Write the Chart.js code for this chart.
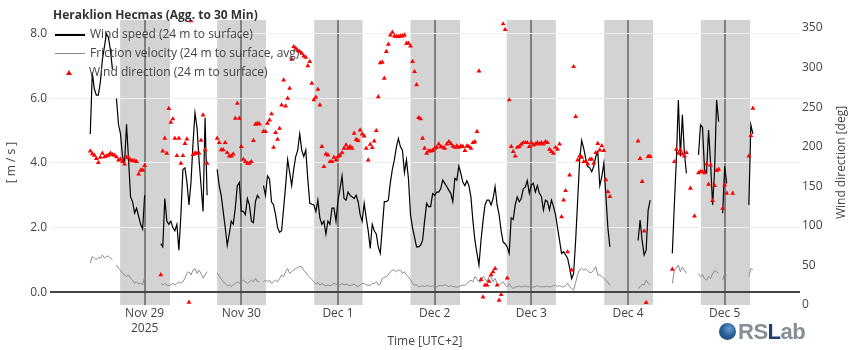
<!DOCTYPE html>
<html>
<head>
<meta charset="utf-8">
<script src="https://cdn.jsdelivr.net/npm/chart.js@4.4.1/dist/chart.umd.min.js"></script>
<style>
  html, body { margin: 0; padding: 0; background: #fff; }
  #wrap { position: relative; width: 850px; height: 350px; font-family: "Open Sans", sans-serif; color: #444; }
  #chart { position: absolute; left: 0; top: 0; }
  #title { position: absolute; left: 53px; top: 5px; font-size: 12px; font-weight: bold; color: #333; line-height: 20px; white-space: nowrap; }
  .leg { position: absolute; left: 55px; height: 19px; line-height: 19px; font-size: 12px; color: #444; white-space: nowrap; }
  .leg .sw { display: inline-block; width: 30px; height: 0; vertical-align: middle; margin-right: 5px; }
  .leg .tri { display: inline-block; width: 0; height: 0; margin: 0 17px 0 11px; vertical-align: middle;
              border-left: 3px solid transparent; border-right: 3px solid transparent; border-bottom: 5px solid #ff0000; }
  #logo { position: absolute; left: 719px; top: 320px; height: 24px; font-family: "Liberation Sans", Arial, sans-serif;
          font-weight: bold; font-size: 22px; line-height: 24px; letter-spacing: -0.5px; white-space: nowrap; }
  #logo .globe { display: inline-block; width: 17px; height: 17px; border-radius: 50%; vertical-align: -1px; margin-right: 2px;
                 background: radial-gradient(circle at 60% 35%, #6f9fd0 0, #2a5f9a 45%, #173e6e 100%); }
  #logo .g { color: #858d97; }
  #logo .b { color: #1d3f72; }
</style>
</head>
<body>
<div id="wrap">
  <canvas id="chart" width="850" height="350"></canvas>
  <div id="title">Heraklion Hecmas (Agg. to 30 Min)</div>
  <div class="leg" style="top:24px"><span class="sw" style="border-top:2px solid #000"></span>Wind speed (24 m to surface)</div>
  <div class="leg" style="top:43px"><span class="sw" style="border-top:1.5px solid #8c8c8c"></span>Friction velocity (24 m to surface, avg)</div>
  <div class="leg" style="top:62px"><span class="tri"></span>Wind direction (24 m to surface)</div>
  <div id="logo"><span class="globe"></span><span class="g">RS</span><span class="b">L</span><span class="g">ab</span></div>
</div>
<script>
// half-hourly samples, starting 2025-11-28 00:00 (UTC+2), one row per day
const stepHours = 0.5;

const speed = [
  null,null,null,null,null,null,null,null,null,null,null,null,null,null,null,null,null,null,null,null,null,4.9,6.8,6.3,6.1,6.1,6.5,7.2,7.6,8.0,7.9,7.5,6.9,null,6.0,5.2,4.9,4.2,4.0,5.2,4.1,2.95,2.8,2.45,2.6,2.35,2.1,1.95,
  3.0,null,null,null,null,null,null,null,1.5,1.4,2.9,2.2,2.1,2.2,2.0,1.9,2.1,1.3,2.4,3.8,3.85,3.4,2.7,3.4,4.6,5.55,5.1,4.1,3.3,2.5,5.4,3.0,null,null,null,null,3.8,3.3,3.0,2.5,2.0,1.45,1.8,2.2,2.1,2.6,3.3,3.4,
  2.5,2.5,2.4,2.9,2.7,2.2,2.15,2.8,3.0,2.9,null,3.3,3.0,3.6,3.5,2.8,2.7,2.4,2.0,1.85,1.9,2.6,3.3,4.1,3.7,3.3,3.8,4.2,4.4,4.9,4.4,4.2,4.4,3.5,2.75,2.72,2.7,2.5,2.85,2.3,2.1,2.2,1.8,2.2,2.1,2.6,2.6,2.2,
  2.85,3.2,3.6,2.9,2.85,3.1,3.0,2.95,2.9,3.0,2.8,2.4,2.2,2.75,2.3,1.9,1.35,2.1,1.9,1.8,1.4,1.2,2.0,2.8,2.8,2.85,3.4,3.8,4.1,4.5,4.76,4.5,4.4,3.7,4.1,3.5,2.4,2.0,1.7,1.4,1.4,1.45,1.6,2.2,2.75,2.65,2.65,3.05,
  3.0,3.1,3.1,3.2,3.47,3.37,3.27,3.16,3.06,2.8,3.52,3.47,3.9,3.68,3.4,3.3,3.45,3.3,2.95,2.2,1.6,1.2,0.84,1.6,2.2,2.7,2.85,2.85,2.7,2.9,3.27,2.7,2.4,1.9,1.55,1.5,1.4,1.2,2.3,2.25,2.7,2.95,2.8,2.9,3.2,3.25,3.45,3.06,
  3.32,3.37,3.1,3.3,3.06,2.96,2.54,2.85,2.8,2.55,2.85,2.65,2.4,2.0,1.6,1.2,1.25,1.15,1.05,0.75,0.42,0.58,1.6,2.85,4.1,4.7,4.45,4.14,3.89,3.85,3.73,3.9,4.2,4.35,3.3,3.58,4.0,3.0,2.0,1.4,null,null,null,null,null,null,null,null,
  null,null,null,null,null,1.6,2.23,1.6,1.15,1.3,2.54,2.85,null,null,null,null,null,null,null,null,null,null,1.2,2.7,4.1,5.95,4.2,5.49,4.3,3.68,null,null,null,null,null,4.25,5.18,5.1,3.78,3.7,5.02,4.0,2.7,3.8,5.95,5.28,null,2.44,
  3.9,3.37,null,null,null,null,null,null,null,null,null,null,2.7,5.18,4.9
];

const friction = [
  null,null,null,null,null,null,null,null,null,null,null,null,null,null,null,null,null,null,null,null,null,0.9,1.1,1.05,1.0,1.08,1.05,1.15,1.05,1.1,1.12,1.05,1.0,null,0.84,0.74,0.68,0.58,0.53,0.48,0.53,0.43,0.37,0.27,0.32,0.25,0.27,0.22,
  0.48,null,null,null,null,null,null,null,0.27,0.22,0.27,0.22,0.2,0.22,0.27,0.22,0.27,0.32,0.27,0.32,0.43,0.58,0.63,0.53,0.68,0.73,0.58,0.68,0.58,0.43,0.53,0.63,null,null,null,null,0.6,0.48,0.42,0.32,0.27,0.2,0.22,0.17,0.22,0.27,0.32,0.27,
  0.32,0.37,0.32,0.27,0.32,0.37,0.32,0.42,0.32,0.32,null,0.32,0.37,0.32,0.37,0.27,0.32,0.37,0.32,0.42,0.53,0.48,0.63,0.73,0.58,0.63,0.68,0.73,0.76,0.8,0.78,0.68,0.6,0.52,0.45,0.4,0.32,0.24,0.3,0.22,0.27,0.22,0.2,0.22,0.2,0.22,0.27,0.25,
  0.2,0.22,0.27,0.22,0.25,0.22,0.2,0.22,0.25,0.2,0.17,0.22,0.27,0.27,0.22,0.22,0.2,0.27,0.27,0.32,0.22,0.25,0.42,0.45,0.48,0.53,0.63,0.68,0.68,0.63,0.68,0.68,0.58,0.63,0.53,0.48,0.37,0.27,0.22,0.22,0.17,0.17,0.2,0.17,0.2,0.19,0.17,0.2,
  0.17,0.15,0.2,0.2,0.2,0.23,0.2,0.17,0.2,0.17,0.17,0.15,0.17,0.2,0.22,0.2,0.27,0.32,0.37,0.32,0.48,0.4,0.32,0.32,0.48,0.42,0.32,0.48,0.48,0.32,0.42,0.27,0.22,0.27,0.32,0.22,0.16,0.27,0.16,0.11,0.16,0.17,0.19,0.16,0.17,0.19,0.17,0.16,
  0.17,0.16,0.17,0.2,0.16,0.17,0.16,0.17,0.18,0.16,0.17,0.2,0.22,0.17,0.2,0.17,0.16,0.2,0.27,0.17,0.11,0.06,0.3,0.55,0.7,0.73,0.68,0.72,0.66,0.6,0.62,0.68,0.79,0.53,0.53,0.48,0.42,0.37,0.3,0.22,null,null,null,null,null,null,null,null,
  null,null,null,null,null,0.11,0.16,0.24,0.22,0.37,0.27,0.22,null,null,null,null,null,null,null,null,null,null,0.27,0.68,0.73,0.84,0.63,0.78,0.68,0.58,null,null,null,null,null,0.58,0.48,0.53,0.42,0.37,0.48,0.42,0.58,0.66,0.63,0.58,null,0.37,
  0.58,0.53,null,null,null,null,null,null,null,null,null,null,0.48,0.73,0.7
];

const direction = [
  null,null,null,null,null,null,null,null,null,null,null,null,null,null,null,null,null,null,null,null,null,194.5,191,189,185,180,186.5,191.6,187,188,189,191.6,190,189,187,183,184,181,178,186.5,186,183,182,182,181,165.5,170,170.5,
  176,null,null,null,null,null,null,null,38,194.5,210.5,191.6,248,230.7,235,210.5,188.6,210.5,179,188.6,204,209.7,3.4,359,190,192,191.6,191.6,208,240,196,179,null,null,null,null,210.5,205,196,196,205,192.4,188.2,188,190.7,235.8,254.7,235.8,
  200,184,181,179,179,181,207.6,228.2,229.5,228.6,null,219,219,229.5,233.7,241.3,199,217.7,209.3,223,252.6,284.2,251.4,261,273.7,310.3,326.3,324.2,321.3,320,318,314.5,312.8,302,307.4,280,259,262.3,272.4,252.6,200,174.7,190.7,189.5,181,181,186.5,183,
  187.4,189,192.4,198,202,198,200,198,216.8,209,207.6,221,216,213.5,198,183,203,198.7,207,220.2,263,306,306.5,286.3,320,329.3,341,344.4,339.8,339,339,339.8,339.8,341,330.5,330.5,327,307.4,294.7,278,236.6,235,210.5,198,191.6,194.5,194.5,195,
  198,199,203.4,200,199,198,203.4,206.3,204,200.8,199,200.8,199,200.8,200,195,200.8,200,198,205,206,219,295.6,32,10,25,25,30,38,42,46,25,6,13,355,348,34,259,200,193.7,188,199,200,203,205,205,205,200,
  205,202,203.4,205,203.4,205,203.4,206.3,205,196.6,193.7,191.6,199,196.6,203.4,111.5,132.6,144.4,67,164,44,301,238,183,188,186.5,181,181,178,184,184,179,192.4,204,195.8,201,195,158,143,137,null,null,null,null,null,null,null,null,
  null,null,null,null,null,207,185,156,93.5,3,187.4,187.4,null,null,null,null,null,null,null,null,null,null,45,181,196.6,191.6,195.8,190.7,188,192.4,null,147.4,null,112.4,null,167,168.4,168.4,167,178,152.4,176.8,131.8,150.7,169.7,171.4,null,122,
  151.6,141,null,null,141,null,null,null,null,null,null,null,188.2,213.9,248.4
];

// hours after 2025-11-28 00:00
const times = speed.map((_, i) => i * stepHours);

// night periods (shaded), hours after 2025-11-28 00:00
const nights = [[17.9, 30.3], [42.0, 54.1], [66.1, 78.1], [90.0, 102.3], [113.9, 126.1], [138.1, 150.2], [162.1, 174.3]];

// midnights and their labels
const dayTicks = [24, 48, 72, 96, 120, 144, 168];
const dayLabels = [["Nov 29", "2025"], "Nov 30", "Dec 1", "Dec 2", "Dec 3", "Dec 4", "Dec 5"];

const speedTicks = [0, 2, 4, 6, 8];
const dirTicks = [0, 50, 100, 150, 200, 250, 300, 350];

const toPoints = (values) => times.map((t, i) => ({ x: t, y: values[i] }));

const nightShade = {
  id: "nightShade",
  beforeDraw(chart) {
    const { ctx, chartArea, scales } = chart;
    ctx.save();
    ctx.fillStyle = "#d3d3d3";
    nights.forEach(([a, b]) => {
      const x0 = Math.max(scales.x.getPixelForValue(a), chartArea.left);
      const x1 = Math.min(scales.x.getPixelForValue(b), chartArea.right);
      ctx.fillRect(x0, chartArea.top, x1 - x0, chartArea.bottom - chartArea.top);
    });
    ctx.restore();
  },
};

// right axis title, reading bottom to top like the left one
const rightTitle = {
  id: "rightTitle",
  afterDraw(chart) {
    const { ctx, chartArea } = chart;
    ctx.save();
    ctx.translate(842, (chartArea.top + chartArea.bottom) / 2);
    ctx.rotate(-Math.PI / 2);
    ctx.font = "12px 'Open Sans', sans-serif";
    ctx.fillStyle = "#444";
    ctx.textAlign = "center";
    ctx.textBaseline = "middle";
    ctx.fillText("Wind direction [deg]", 0, 0);
    ctx.restore();
  },
};

const font = { family: "'Open Sans', sans-serif", size: 12, lineHeight: 1.25 };

new Chart(document.getElementById("chart"), {
  type: "line",
  data: {
    datasets: [
      {
        label: "Wind direction (24 m to surface)",
        data: toPoints(direction),
        yAxisID: "y1",
        showLine: false,
        pointStyle: "triangle",
        pointRadius: 2.8,
        pointBackgroundColor: "#ff0000",
        pointBorderWidth: 0,
        order: 0,
      },
      {
        label: "Wind speed (24 m to surface)",
        data: toPoints(speed),
        yAxisID: "y",
        borderColor: "#000000",
        borderWidth: 1.2,
        pointRadius: 0,
        order: 1,
      },
      {
        label: "Friction velocity (24 m to surface, avg)",
        data: toPoints(friction),
        yAxisID: "y",
        borderColor: "#8c8c8c",
        borderWidth: 1,
        pointRadius: 0,
        order: 2,
      },
    ],
  },
  options: {
    responsive: false,
    animation: false,
    layout: { padding: { top: 20, left: 0, right: 0, bottom: 0 } },
    plugins: { legend: { display: false }, tooltip: { enabled: false } },
    scales: {
      x: {
        type: "linear",
        min: 0.5,
        max: 186.7,
        afterBuildTicks: (s) => { s.ticks = dayTicks.map((v) => ({ value: v })); },
        afterFit: (s) => { s.height = 45; },
        ticks: {
          autoSkip: false,
          maxRotation: 0,
          padding: 1,
          color: "#444",
          font: font,
          callback: (v) => dayLabels[dayTicks.indexOf(v)],
        },
        grid: { color: "#808080", lineWidth: 2, drawTicks: false },
        border: { display: false },
        title: { display: true, text: "Time [UTC+2]", color: "#444", font: font, padding: { top: 0, bottom: 1 } },
      },
      y: {
        position: "left",
        min: -0.4,
        max: 8.43,
        afterBuildTicks: (s) => { s.ticks = speedTicks.map((v) => ({ value: v })); },
        afterFit: (s) => { s.width = 50; },
        ticks: { padding: 3, color: "#444", font: font, callback: (v) => v.toFixed(1) },
        grid: {
          drawTicks: false,
          color: (c) => (c.tick && c.tick.value === 0 ? "#444" : "#eeeeee"),
          lineWidth: (c) => (c.tick && c.tick.value === 0 ? 2 : 1),
        },
        border: { display: false },
        title: { display: true, text: "[ m / s ]", color: "#444", font: font, padding: { top: 4, bottom: 0 } },
      },
      y1: {
        position: "right",
        min: 0,
        max: 360,
        afterBuildTicks: (s) => { s.ticks = dirTicks.map((v) => ({ value: v })); },
        afterFit: (s) => { s.width = 50; },
        ticks: { padding: 2, color: "#444", font: font },
        grid: { drawOnChartArea: false, drawTicks: false },
        border: { display: false },
      },
    },
  },
  plugins: [nightShade, rightTitle],
});
</script>
</body>
</html>
